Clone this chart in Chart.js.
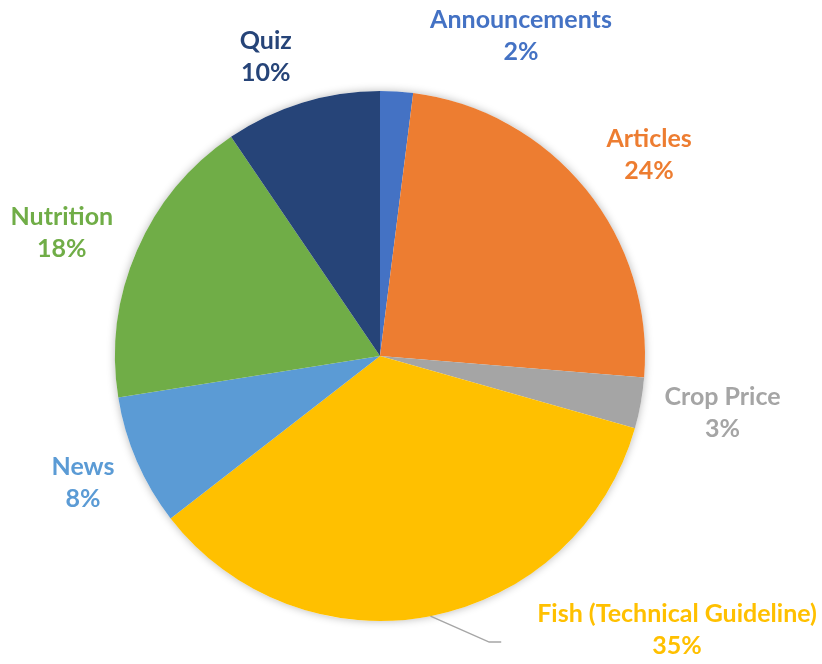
<!DOCTYPE html>
<html>
<head>
<meta charset="utf-8">
<script src="https://cdn.jsdelivr.net/npm/chart.js@4"></script>
<style>
  html, body { margin: 0; padding: 0; background: #fff; }
  #wrap { width: 822px; height: 664px; }
</style>
</head>
<body>
<div id="wrap"><canvas id="pieChart" width="822" height="664"></canvas></div>
<script>
// data (share of posts, %)
const categories = ["Announcements", "Articles", "Crop Price", "Fish (Technical Guideline)", "News", "Nutrition", "Quiz"];
const shares = [2.0, 24.3, 3.1, 35.1, 8.0, 18.0, 9.5];
const colors = ["#4472C4", "#ED7D31", "#A5A5A5", "#FFC000", "#5B9BD5", "#70AD47", "#264478"];

// label placement tweaks (px), same order as categories
const labelNudge = [[117, 2], [10, 2], [-1, -1], [215, -43], [-1, -1], [-4, 5], [-21, 10]];

const FONT = "bold 25px Lato, 'Open Sans', sans-serif";
const LINE_H = 32;

// soft shadow behind the pie
const pieShadow = {
  id: 'pieShadow',
  beforeDatasetsDraw(chart) {
    const arc = chart.getDatasetMeta(0).data[0];
    if (!arc) return;
    const ctx = chart.ctx;
    ctx.save();
    ctx.shadowColor = 'rgba(0,0,0,0.28)';
    ctx.shadowBlur = 9;
    ctx.fillStyle = '#fff';
    ctx.beginPath();
    ctx.arc(arc.x, arc.y, arc.outerRadius, 0, Math.PI * 2);
    ctx.fill();
    ctx.restore();
  }
};

// outside labels: name + rounded percent, coloured like the slice
const outsideLabels = {
  id: 'outsideLabels',
  afterDatasetsDraw(chart) {
    const ctx = chart.ctx;
    const meta = chart.getDatasetMeta(0);
    const values = chart.data.datasets[0].data;
    const total = values.reduce((a, b) => a + b, 0);
    ctx.save();
    ctx.font = FONT;
    ctx.textAlign = 'center';
    ctx.textBaseline = 'middle';
    meta.data.forEach((arc, i) => {
      const mid = (arc.startAngle + arc.endAngle) / 2;
      const dx = Math.cos(mid), dy = Math.sin(mid);
      const r = arc.outerRadius;
      const name = chart.data.labels[i];
      const pct = Math.round(values[i] * 100 / total) + '%';
      const w = Math.max(ctx.measureText(name).width, ctx.measureText(pct).width);
      const h = LINE_H * 2;
      const gap = 26;
      let x = arc.x + dx * (r + gap) + dx * w / 2 + labelNudge[i][0];
      let y = arc.y + dy * (r + gap) + dy * h / 2 + labelNudge[i][1];

      // leader line when the label has been moved far from its slice
      if (Math.hypot(labelNudge[i][0], labelNudge[i][1]) > 100 && dy > 0.5) {
        const sx = arc.x + dx * r, sy = arc.y + dy * r;
        const ex = x - w / 2 - 36, ey = y + 12;
        ctx.strokeStyle = '#A6A6A6';
        ctx.lineWidth = 1.5;
        ctx.beginPath();
        ctx.moveTo(sx, sy);
        ctx.lineTo(ex - 12, ey);
        ctx.lineTo(ex, ey);
        ctx.stroke();
      }

      ctx.fillStyle = colors[i];
      ctx.fillText(name, x, y - LINE_H / 2);
      ctx.fillText(pct, x, y + LINE_H / 2);
    });
    ctx.restore();
  }
};

const ctx = document.getElementById('pieChart').getContext('2d');
const pieChart = new Chart(ctx, {
  type: 'pie',
  data: {
    labels: categories,
    datasets: [{
      data: shares,
      backgroundColor: colors,
      borderWidth: 0
    }]
  },
  options: {
    responsive: false,
    animation: false,
    layout: { padding: { left: 115, right: 177, top: 91, bottom: 43 } },
    plugins: {
      legend: { display: false },
      tooltip: { enabled: false }
    }
  },
  plugins: [pieShadow, outsideLabels]
});
</script>
</body>
</html>
